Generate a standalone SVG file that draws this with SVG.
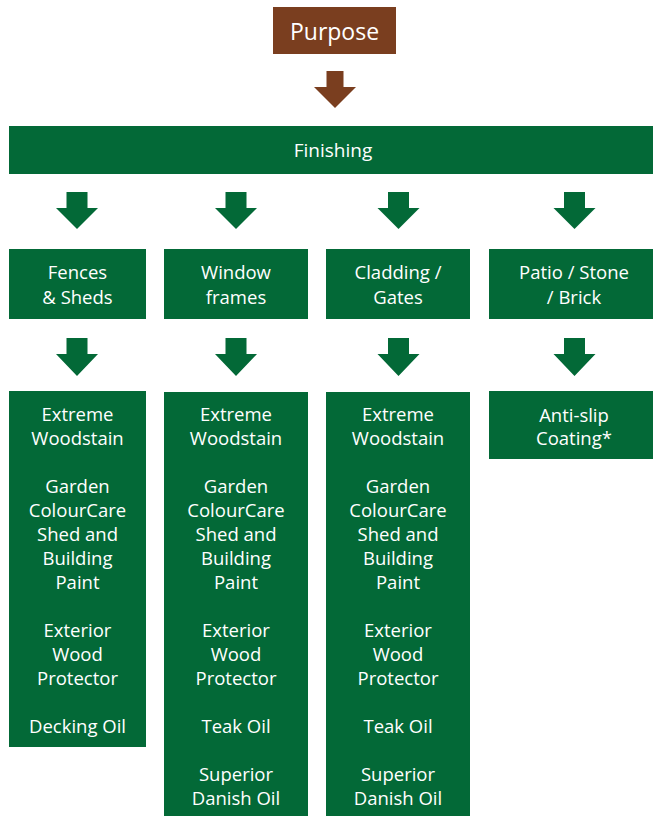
<svg xmlns="http://www.w3.org/2000/svg" width="653" height="816" viewBox="0 0 653 816">
<style>
.g{fill:#036937}
.b{fill:#7a3e1f}
text{font-family:"Open Sans","Liberation Sans",sans-serif;fill:#ffffff;text-anchor:middle}
.t{font-size:18.5px}
.f{font-size:19px}
.p{font-size:23px}
</style>
<rect width="653" height="816" fill="#ffffff"/>
<g id="connectors">
<polygon class="b" points="326.5,71 343.5,71 343.5,87 356,87 335,108 314,87 326.5,87"/>
<polygon class="g" points="66.5,192 87.5,192 87.5,208 98,208 77,229 56,208 66.5,208"/>
<polygon class="g" points="225.5,192 246.5,192 246.5,208 257,208 236,229 215,208 225.5,208"/>
<polygon class="g" points="388,192 409,192 409,208 419.5,208 398.5,229 377.5,208 388,208"/>
<polygon class="g" points="564,192 585,192 585,208 595.5,208 574.5,229 553.5,208 564,208"/>
<polygon class="g" points="66.5,338 87.5,338 87.5,354 98,354 77,376 56,354 66.5,354"/>
<polygon class="g" points="225.5,338 246.5,338 246.5,354 257,354 236,376 215,354 225.5,354"/>
<polygon class="g" points="388,338 409,338 409,354 419.5,354 398.5,376 377.5,354 388,354"/>
<polygon class="g" points="564,338 585,338 585,354 595.5,354 574.5,376 553.5,354 564,354"/>
</g>
<g id="purpose">
<rect class="b" x="273" y="7" width="123" height="47"/>
<text class="p" x="334.5" y="40">Purpose</text>
</g>
<g id="finishing">
<rect class="g" x="9" y="126" width="644" height="48"/>
<text class="f" x="333" y="157">Finishing</text>
</g>
<g id="fences">
<rect class="g" x="9" y="249" width="137" height="70"/>
<text class="t" x="77.5" y="279">Fences</text>
<text class="t" x="77.5" y="304">&amp; Sheds</text>
</g>
<g id="window">
<rect class="g" x="164" y="249" width="144" height="70"/>
<text class="t" x="236" y="279">Window</text>
<text class="t" x="236" y="304">frames</text>
</g>
<g id="cladding">
<rect class="g" x="326" y="249" width="144" height="70"/>
<text class="t" x="398" y="279">Cladding /</text>
<text class="t" x="398" y="304">Gates</text>
</g>
<g id="patio">
<rect class="g" x="489" y="249" width="164" height="70"/>
<text class="t" x="574" y="279">Patio / Stone</text>
<text class="t" x="574" y="304">/ Brick</text>
</g>
<g id="products-fences">
<rect class="g" x="9" y="391" width="137" height="356"/>
<text class="t" x="77.5" y="421">Extreme</text>
<text class="t" x="77.5" y="445">Woodstain</text>
<text class="t" x="77.5" y="493">Garden</text>
<text class="t" x="77.5" y="517">ColourCare</text>
<text class="t" x="77.5" y="541">Shed and</text>
<text class="t" x="77.5" y="565">Building</text>
<text class="t" x="77.5" y="589">Paint</text>
<text class="t" x="77.5" y="637">Exterior</text>
<text class="t" x="77.5" y="661">Wood</text>
<text class="t" x="77.5" y="685">Protector</text>
<text class="t" x="77.5" y="733">Decking Oil</text>
</g>
<g id="products-window">
<rect class="g" x="164" y="392" width="144" height="424"/>
<text class="t" x="236" y="421">Extreme</text>
<text class="t" x="236" y="445">Woodstain</text>
<text class="t" x="236" y="493">Garden</text>
<text class="t" x="236" y="517">ColourCare</text>
<text class="t" x="236" y="541">Shed and</text>
<text class="t" x="236" y="565">Building</text>
<text class="t" x="236" y="589">Paint</text>
<text class="t" x="236" y="637">Exterior</text>
<text class="t" x="236" y="661">Wood</text>
<text class="t" x="236" y="685">Protector</text>
<text class="t" x="236" y="733">Teak Oil</text>
<text class="t" x="236" y="781">Superior</text>
<text class="t" x="236" y="805">Danish Oil</text>
</g>
<g id="products-cladding">
<rect class="g" x="326" y="392" width="144" height="424"/>
<text class="t" x="398" y="421">Extreme</text>
<text class="t" x="398" y="445">Woodstain</text>
<text class="t" x="398" y="493">Garden</text>
<text class="t" x="398" y="517">ColourCare</text>
<text class="t" x="398" y="541">Shed and</text>
<text class="t" x="398" y="565">Building</text>
<text class="t" x="398" y="589">Paint</text>
<text class="t" x="398" y="637">Exterior</text>
<text class="t" x="398" y="661">Wood</text>
<text class="t" x="398" y="685">Protector</text>
<text class="t" x="398" y="733">Teak Oil</text>
<text class="t" x="398" y="781">Superior</text>
<text class="t" x="398" y="805">Danish Oil</text>
</g>
<g id="products-patio">
<rect class="g" x="489" y="391" width="164" height="68"/>
<text class="t" x="574" y="422">Anti-slip</text>
<text class="t" x="574" y="445">Coating*</text>
</g>
</svg>
